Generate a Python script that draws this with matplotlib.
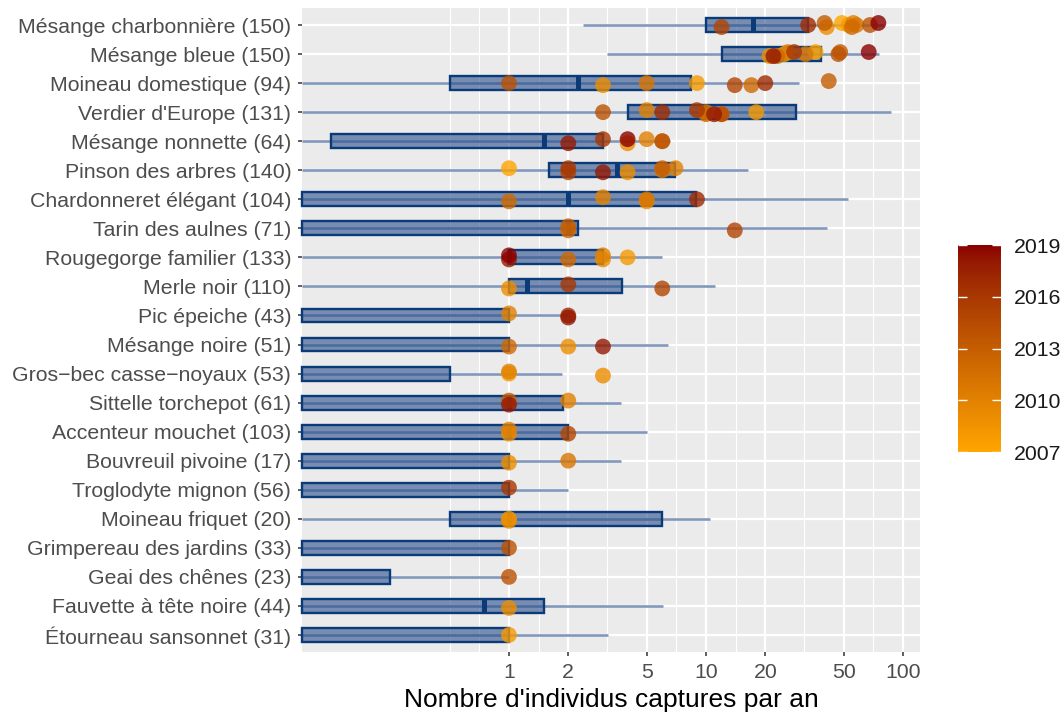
import numpy as np
import matplotlib
matplotlib.use("Agg")
import matplotlib.pyplot as plt
from matplotlib.colors import ListedColormap, Normalize
from matplotlib.patches import Rectangle
from matplotlib.cm import ScalarMappable
from matplotlib.ticker import NullFormatter, FixedLocator, FixedFormatter

plt.rcParams['font.family'] = ['Liberation Sans', 'DejaVu Sans']

# ---------------- data ----------------
species = [
    "Mésange charbonnière (150)", "Mésange bleue (150)", "Moineau domestique (94)",
    "Verdier d'Europe (131)", "Mésange nonnette (64)", "Pinson des arbres (140)",
    "Chardonneret élégant (104)", "Tarin des aulnes (71)", "Rougegorge familier (133)",
    "Merle noir (110)", "Pic épeiche (43)", "Mésange noire (51)",
    "Gros\u2212bec casse\u2212noyaux (53)", "Sittelle torchepot (61)", "Accenteur mouchet (103)",
    "Bouvreuil pivoine (17)", "Troglodyte mignon (56)", "Moineau friquet (20)",
    "Grimpereau des jardins (33)", "Geai des chênes (23)", "Fauvette à tête noire (44)",
    "Étourneau sansonnet (31)",
]
# box statistics (0 = at the lower edge of the panel)
whisk_lo = [2.37, 3.14, 0, 0, 0, 0, 0, 0, 0, 0, 0, 0, 0, 0, 0, 0, 0, 0, 0, 0, 0, 0]
box_q1   = [10.0, 12.1, 0.5, 4.0, 0.125, 1.6, 0, 0, 1.0, 1.0, 0, 0, 0, 0, 0, 0, 0, 0.5, 0, 0, 0, 0]
box_med  = [17.3, 25.0, 2.23, 10.0, 1.5, 3.52, 2.0, 2.0, 1.0, 1.24, 0, 0, 0, 1.0, 1.0, 0, 0, 1.0, 0, 0, 0.75, 0]
box_q3   = [33.0, 38.4, 8.35, 28.5, 3.0, 7.0, 8.9, 2.25, 3.0, 3.76, 1.0, 1.0, 0.5, 1.87, 2.0, 1.0, 1.0, 6.0, 1.0, 0.25, 1.5, 1.0]
whisk_hi = [80.0, 75.5, 29.6, 86.8, 6.6, 16.3, 52.7, 41.0, 6.0, 11.1, 2.0, 6.4, 1.85, 3.7, 5.0, 3.7, 2.0, 10.5, 1.0, 1.0, 6.06, 3.19]

# yearly captures (points)
point_years = [
    [2007, 2008, 2009, 2010, 2011, 2012, 2013, 2014, 2015, 2017, 2019],
    [2007, 2008, 2009, 2010, 2011, 2012, 2013, 2014, 2016, 2018, 2019],
    [2008, 2009, 2011, 2012, 2013, 2014, 2015, 2017],
    [2008, 2009, 2010, 2011, 2012, 2014, 2015, 2016, 2017, 2018],
    [2009, 2010, 2011, 2014, 2016, 2018, 2019],
    [2007, 2009, 2010, 2011, 2013, 2015, 2016, 2018],
    [2009, 2010, 2011, 2012, 2017],
    [2012, 2013, 2015],
    [2008, 2009, 2010, 2012, 2018, 2019],
    [2009, 2015, 2016],
    [2010, 2017, 2018],
    [2009, 2012, 2018],
    [2008, 2009, 2010],
    [2010, 2013, 2018],
    [2009, 2010, 2015],
    [2009, 2011],
    [2016],
    [2008, 2009],
    [2014],
    [2014],
    [2009],
    [2008],
]
point_counts = [
    [49, 53, 41, 56, 58, 55, 40, 68, 12, 33, 75],
    [36, 25, 21, 26, 32, 23, 48, 47, 28, 22, 67],
    [9, 3, 5, 17, 42, 1, 14, 20],
    [18, 12, 5, 10, 10, 3, 12, 9, 6, 11],
    [4, 5, 6, 6, 3, 2, 4],
    [1, 4, 7, 6, 6, 2, 2, 3],
    [5, 3, 5, 1, 9],
    [2, 2, 14],
    [4, 3, 3, 2, 1, 1],
    [1, 6, 2],
    [1, 2, 2],
    [2, 1, 3],
    [1, 3, 1],
    [2, 1, 1],
    [1, 1, 2],
    [1, 2],
    [1],
    [1, 1],
    [1],
    [1],
    [1],
    [1],
]
year_min, year_max = 2007, 2019
legend_ticks = [2007, 2010, 2013, 2016, 2019]
x_breaks = [1, 2, 5, 10, 20, 50, 100]

# ---------------- colour scale (Lab interpolation, like ggplot) ----------------
M_RGB2XYZ = np.array([[0.4124, 0.3576, 0.1805], [0.2126, 0.7152, 0.0722], [0.0193, 0.1192, 0.9505]])
WHITE = np.array([0.95047, 1.0, 1.08883])

def srgb_to_lab(rgb):
    c = np.asarray(rgb, float)
    lin = np.where(c <= 0.04045, c / 12.92, ((c + 0.055) / 1.055) ** 2.4)
    xyz = M_RGB2XYZ @ lin / WHITE
    f = np.where(xyz > 0.008856, np.cbrt(xyz), 7.787 * xyz + 16 / 116)
    return np.array([116 * f[1] - 16, 500 * (f[0] - f[1]), 200 * (f[1] - f[2])])

def lab_to_srgb(lab):
    L, a, b = lab
    fy = (L + 16) / 116
    f = np.array([fy + a / 500, fy, fy - b / 200])
    xyz = np.where(f ** 3 > 0.008856, f ** 3, (f - 16 / 116) / 7.787) * WHITE
    lin = np.clip(np.linalg.inv(M_RGB2XYZ) @ xyz, 0, 1)
    c = np.where(lin <= 0.0031308, 12.92 * lin, 1.055 * lin ** (1 / 2.4) - 0.055)
    return np.clip(c, 0, 1)

lab_lo = srgb_to_lab([1.0, 165 / 255, 0.0])    # orange
lab_hi = srgb_to_lab([139 / 255, 0.0, 0.0])    # darkred
cmap = ListedColormap([lab_to_srgb(lab_lo + t * (lab_hi - lab_lo)) for t in np.linspace(0, 1, 256)])
norm = Normalize(year_min, year_max)

# ---------------- figure ----------------
W, H = 1064, 717
fig = plt.figure(figsize=(W / 100, H / 100), dpi=100)
pl, pr, pt, pb = 302, 920, 7.6, 652.4
ax = fig.add_axes([pl / W, (H - pb) / H, (pr - pl) / W, (pb - pt) / H])
ax.set_facecolor('#EBEBEB')
for s in ax.spines.values():
    s.set_visible(False)

ax.set_xscale('log')
XMIN, XMAX = 0.089, 122.0
ax.set_xlim(XMIN, XMAX)
n = len(species)
ax.set_ylim(n - 0.4, -0.6)

minor = [0.5, 0.7071, 1.4142, 3.1623, 7.0711, 14.142, 31.623, 70.711]
ax.xaxis.set_major_locator(FixedLocator(x_breaks))
ax.xaxis.set_major_formatter(FixedFormatter([str(b) for b in x_breaks]))
ax.xaxis.set_minor_locator(FixedLocator(minor))
ax.xaxis.set_minor_formatter(NullFormatter())
ax.set_yticks(range(n))
ax.set_yticklabels(species)
ax.grid(which='major', color='white', linewidth=1.6)
ax.grid(which='minor', axis='x', color='white', linewidth=0.8)
ax.set_axisbelow(True)
ax.tick_params(which='major', length=3.2, width=1.1, color='#333333',
               labelcolor='#4D4D4D', labelsize=15.3, pad=4.5)
ax.tick_params(which='minor', length=0)

navy = '#0B3A78'
fill = (0.16, 0.30, 0.54, 0.6)
hh = 0.24
for i in range(n):
    lo = max(whisk_lo[i], XMIN)
    if whisk_hi[i] > lo:
        ax.hlines(i, lo, whisk_hi[i], color='#8198BC', linewidth=1.9, zorder=2)
    left = max(box_q1[i], XMIN)
    ax.add_patch(Rectangle((left, i - hh), box_q3[i] - left, 2 * hh, facecolor=fill,
                           edgecolor=navy, linewidth=1.7, zorder=3, clip_on=False))
    if box_med[i] > XMIN:
        ax.vlines(box_med[i], i - hh, i + hh, color=navy, linewidth=3.6, zorder=3)

for i in range(n):
    yrs = np.array(point_years[i])
    cnt = np.array(point_counts[i], float)
    dy = ((yrs % 3) - 1) * 0.07
    ax.scatter(cnt, i + dy, s=130, c=yrs, cmap=cmap, norm=norm, alpha=0.8,
               edgecolors='none', zorder=4)

ax.set_xlabel("Nombre d'individus captures par an", fontsize=19, color='black', labelpad=4)

# ---------------- colour bar ----------------
cax = fig.add_axes([958 / W, (H - 452) / H, 43 / W, 207 / H])
cb = fig.colorbar(ScalarMappable(norm=norm, cmap=cmap), cax=cax, ticks=legend_ticks)
cb.outline.set_visible(False)
cax.tick_params(length=0, labelsize=15.3, pad=9, labelcolor='#1A1A1A')
tr = cax.get_yaxis_transform()
cax.hlines(legend_ticks, 0, 0.2, colors='white', linewidth=1.0, transform=tr)
cax.hlines(legend_ticks, 0.8, 1, colors='white', linewidth=1.0, transform=tr)

fig.savefig('out.png', dpi=100)
